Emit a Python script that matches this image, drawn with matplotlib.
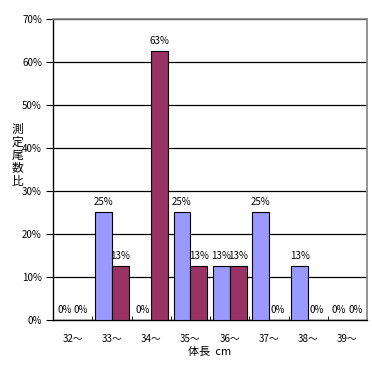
import numpy as np
import matplotlib
matplotlib.use("Agg")
import matplotlib.pyplot as plt

plt.rcParams['font.family'] = ['Noto Sans CJK JP', 'DejaVu Sans']

categories = ["32～", "33～", "34～", "35～", "36～", "37～", "38～", "39～"]
series_a = [0.0, 25.0, 0.0, 25.0, 12.5, 25.0, 12.5, 0.0]    # blue
series_b = [0.0, 12.5, 62.5, 12.5, 12.5, 0.0, 0.0, 0.0]     # maroon
y_ticks = [0, 10, 20, 30, 40, 50, 60, 70]

fig = plt.figure(figsize=(3.72, 3.65), dpi=100)
ax = fig.add_axes([0.1425, 0.1233, 0.8441, 0.8247])

x = np.arange(len(categories))
w = 0.43
ax.bar(x - w/2, series_a, w, color="#9999FF", edgecolor="black", linewidth=0.8, zorder=3)
ax.bar(x + w/2, series_b, w, color="#993366", edgecolor="black", linewidth=0.8, zorder=3)

for xi, v in zip(x, series_a):
    ax.text(xi - w/2, v + 1.2, "%d%%" % round(v + 0.01), ha="center", va="bottom", fontsize=7, zorder=4)
for xi, v in zip(x, series_b):
    ax.text(xi + w/2, v + 1.2, "%d%%" % round(v + 0.01), ha="center", va="bottom", fontsize=7, zorder=4)

ax.set_xlim(-0.5, len(categories) - 0.5)
ax.set_ylim(0, 70)
ax.set_yticks(y_ticks)
ax.set_yticklabels(["%d%%" % t for t in y_ticks], fontsize=7)
ax.yaxis.grid(True, color="black", linewidth=0.9, zorder=0)

ax.set_xticks(x)
ax.set_xticklabels(categories, fontsize=7)
ax.tick_params(axis="x", length=0, pad=10)
ax.set_xticks(np.arange(0.5, len(categories) - 0.5), minor=True)
ax.tick_params(axis="x", which="minor", direction="in", length=3, color="black")
ax.tick_params(axis="y", direction="out", length=5, color="black", pad=3)

for s in ["top", "right"]:
    ax.spines[s].set_color("gray")
    ax.spines[s].set_linewidth(1.2)
for s in ["left", "bottom"]:
    ax.spines[s].set_color("black")
    ax.spines[s].set_linewidth(1.0)

ax.set_xlabel("体長  cm", fontsize=8, labelpad=2)
fig.text(0.046, 0.575, "測\n定\n尾\n数\n比", fontsize=8.5, ha="center", va="center", linespacing=1.0)

fig.savefig("out.png", dpi=100)
